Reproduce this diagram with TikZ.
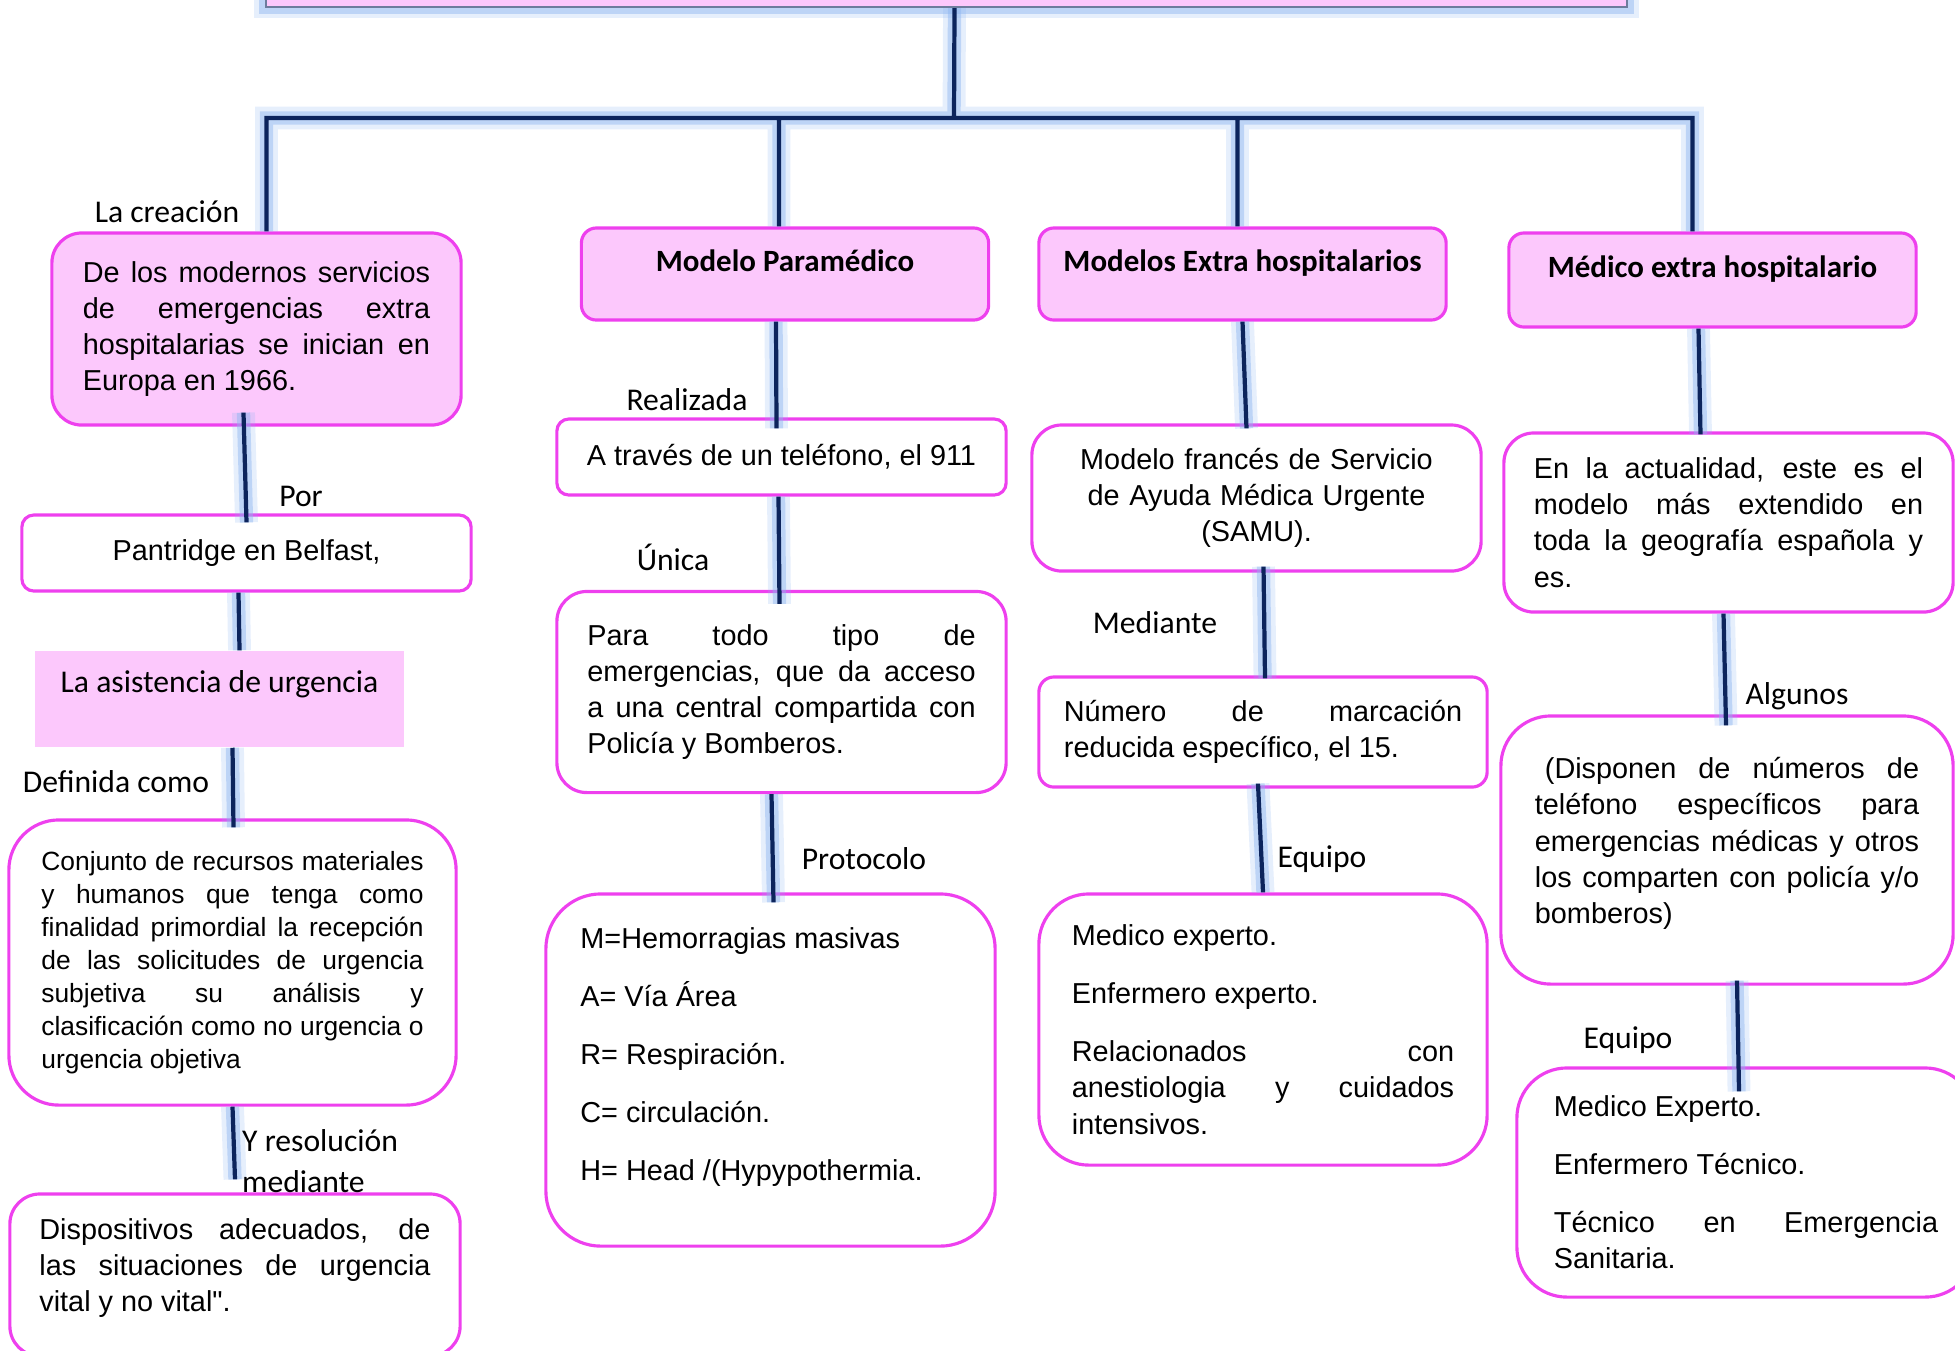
\documentclass[tikz,border=0pt]{standalone}
\usepackage{fontspec}
\setmainfont{Liberation Sans}
\newfontfamily\notefont{Carlito}
\usetikzlibrary{positioning}
\definecolor{boxpink}{RGB}{252,200,252}
\definecolor{boxline}{RGB}{238,64,238}
\definecolor{linknavy}{RGB}{12,36,92}
\definecolor{glowblue}{RGB}{140,180,240}
\hyphenpenalty=10000
\exhyphenpenalty=10000

\begin{document}
\begin{tikzpicture}[x=0.01cm, y=-0.01cm,
    box/.style={draw=boxline, line width=0.9pt, rounded corners=0.3cm, inner sep=0pt,
      align=justify, font=\fontsize{8.2}{10.3}\selectfont},
    pinkbox/.style={box, fill=boxpink},
    headbox/.style={pinkbox, rounded corners=0.15cm, align=center,
      minimum width=4.07cm, minimum height=0.92cm, text height=0.3cm, text depth=0.36cm,
      font=\notefont\bfseries\fontsize{8.8}{10.5}\selectfont},
    tag/.style={inner sep=1pt, font=\notefont\fontsize{9}{11.7}\selectfont},
    glow/.style={preaction={draw=glowblue, line width=6.5pt, opacity=0.22},
      preaction={draw=glowblue, line width=3.8pt, opacity=0.45}},
    link/.style={glow, draw=linknavy, line width=1.2pt}]
    \useasboundingbox (0,0) rectangle (1955,1350);
    \clip (0,0) rectangle (1955,1350);

    % Title bar, cut by the top edge
    \node[pinkbox, glow, rounded corners=0pt, draw=linknavy!60, line width=0.6pt,
      minimum width=13.61cm, minimum height=0.8cm] (title) at (946.5,-33) {};

    % Column 1
    \node[pinkbox, minimum width=4.09cm, minimum height=1.92cm, text width=3.47cm] (creacion) at (256.5,329)
      {De los modernos servicios\linebreak de emergencias extra\linebreak hospitalarias se inician en\linebreak Europa en 1966.};
    \node[box, rounded corners=0.12cm, align=center, minimum width=4.49cm, minimum height=0.76cm] (pantridge) at (246.5,553)
      {Pantridge en Belfast,};
    \node[fill=boxpink, inner sep=0pt, minimum width=3.69cm, minimum height=0.96cm,
      text height=0.3cm, text depth=0.44cm, font=\notefont\fontsize{9}{11}\selectfont] (asistencia) at (219.5,699)
      {La asistencia de urgencia};
    \node[box, rounded corners=0.5cm, minimum width=4.47cm, minimum height=2.85cm, text width=3.82cm,
      font=\fontsize{7.5}{9.4}\selectfont] (definicion) at (232.5,962.5)
      {Conjunto de recursos materiales\linebreak y humanos que tenga como\linebreak finalidad primordial la recepción\linebreak
       de las solicitudes de urgencia\linebreak subjetiva su análisis y\linebreak clasificación como no urgencia o\linebreak urgencia objetiva};
    \node[box, minimum width=4.5cm, minimum height=1.62cm, text width=3.91cm, text depth=0.92cm] (dispositivos) at (235,1275)
      {Dispositivos adecuados, de\linebreak las situaciones de urgencia\linebreak vital y no vital\textquotedbl.};

    % Column 2
    \node[headbox] (paramedico) at (785,274) {Modelo Paramédico};
    \node[box, rounded corners=0.12cm, align=center, minimum width=4.49cm, minimum height=0.76cm] (telefono) at (781.5,457)
      {A través de un teléfono, el 911};
    \node[box, minimum width=4.49cm, minimum height=2.01cm, text width=3.88cm] (central) at (781.5,692)
      {Para todo tipo de\linebreak emergencias, que da acceso\linebreak a una central compartida con\linebreak Policía y Bomberos.};
    \node[box, rounded corners=0.55cm, minimum width=4.49cm, minimum height=3.52cm, text width=3.8cm,
      text depth=2.63cm] (protocolo) at (770.5,1070)
      {M=Hemorragias masivas\\[6.2pt] A= Vía Área\\[6.2pt] R= Respiración.\\[6.2pt] C= circulación.\\[6.2pt] H= Head /(Hypypothermia.};

    % Column 3
    \node[headbox] (extrahosp) at (1242.5,274) {Modelos Extra hospitalarios};
    \node[box, align=center, minimum width=4.49cm, minimum height=1.46cm, text width=4.2cm] (samu) at (1256.5,498)
      {Modelo francés de Servicio\\ de Ayuda Médica Urgente\\ (SAMU).};
    \node[box, rounded corners=0.15cm, minimum width=4.48cm, minimum height=1.1cm, text width=3.98cm] (marcacion) at (1263,732)
      {Número de marcación\linebreak reducida específico, el 15.};
    \node[box, rounded corners=0.5cm, minimum width=4.48cm, minimum height=2.71cm, text width=3.82cm] (equipoC) at (1263,1029.5)
      {Medico experto.\\[6.2pt] Enfermero experto.\\[6.2pt] Relacionados con\linebreak anestiologia y cuidados\linebreak intensivos.};

    % Column 4
    \node[headbox, minimum height=0.94cm] (medico) at (1712.5,280) {Médico extra hospitalario};
    \node[box, minimum width=4.49cm, minimum height=1.79cm, text width=3.89cm] (actualidad) at (1728.5,522.5)
      {En la actualidad, este es el\linebreak modelo más extendido en\linebreak toda la geografía española y\linebreak es.};
    \node[box, rounded corners=0.5cm, minimum width=4.52cm, minimum height=2.68cm, text width=3.84cm,
      text depth=1.64cm] (numeros) at (1727,850)
      {\hspace{0.1cm}(Disponen de números de\linebreak teléfono específicos para\linebreak emergencias médicas y otros\linebreak
       los comparten con policía y/o\linebreak bomberos)};
    \node[box, rounded corners=0.5cm, minimum width=4.58cm, minimum height=2.29cm, text width=3.84cm] (equipoD) at (1746,1182.5)
      {Medico Experto.\\[6.2pt] Enfermero Técnico.\\[6.2pt] Técnico en Emergencia\linebreak Sanitaria.};

    % Tree from the title
    \coordinate (hub) at (954,118);
    \draw[link] ([xshift=0.08cm]title.south) -- (hub)
      (hub) -| ([xshift=0.1cm]creacion.north)
      (hub) -| ([xshift=-0.06cm]paramedico.north)
      (hub) -| ([xshift=-0.05cm]extrahosp.north)
      (hub) -| ([xshift=-0.2cm]medico.north);

    % Links down each column
    \draw[link] ([xshift=-0.13cm,yshift=0.14cm]creacion.south) -- ([yshift=-0.09cm]pantridge.north);
    \draw[link] ([xshift=-0.08cm]pantridge.south) -- ([xshift=0.2cm]asistencia.north);
    \draw[link] ([xshift=0.13cm]asistencia.south) -- ([xshift=0.01cm,yshift=-0.09cm]definicion.north);
    \draw[link] (definicion.south) -- ([yshift=0.13cm]dispositivos.north);
    \draw[link] ([xshift=-0.09cm]paramedico.south) -- ([xshift=-0.05cm,yshift=-0.11cm]telefono.north);
    \draw[link] ([xshift=-0.03cm]telefono.south) -- ([xshift=-0.02cm,yshift=-0.14cm]central.north);
    \draw[link] ([xshift=-0.1cm]central.south) -- ([xshift=0.03cm,yshift=-0.1cm]protocolo.north);
    \draw[link] (extrahosp.south) -- ([xshift=-0.1cm,yshift=-0.05cm]samu.north);
    \draw[link] ([xshift=0.07cm,yshift=0.06cm]samu.south) -- ([xshift=0.02cm,yshift=-0.03cm]marcacion.north);
    \draw[link] ([xshift=-0.05cm,yshift=0.05cm]marcacion.south) -- (equipoC.north);
    \draw[link] ([xshift=-0.14cm]medico.south) -- ([xshift=-0.28cm,yshift=-0.03cm]actualidad.north);
    \draw[link] ([xshift=-0.05cm]actualidad.south) -- ([xshift=-0.01cm,yshift=-0.11cm]numeros.north);
    \draw[link] ([xshift=0.1cm,yshift=0.05cm]numeros.south) -- ([xshift=-0.07cm,yshift=-0.25cm]equipoD.north);

    % Link labels
    \node[tag] (tcreacion) at (167,212) {La creación};
    \node[tag] (tpor) at (301,496) {Por};
    \node[tag] (tdefinida) at (116,782) {Definida como};
    \node[tag, anchor=west, align=left] (tresolucion) at (238,1161) {Y resolución\\mediante};
    \node[tag] (trealizada) at (687,400) {Realizada};
    \node[tag] (tunica) at (673,557) {Única};
    \node[tag] (tprotocolo) at (864,859) {Protocolo};
    \node[tag] (tmediante) at (1155,623) {Mediante};
    \node[tag] (tequipoC) at (1322,859) {Equipo};
    \node[tag] (talgunos) at (1797,696) {Algunos};
    \node[tag] (tequipoD) at (1628,1040) {Equipo};
\end{tikzpicture}
\end{document}
